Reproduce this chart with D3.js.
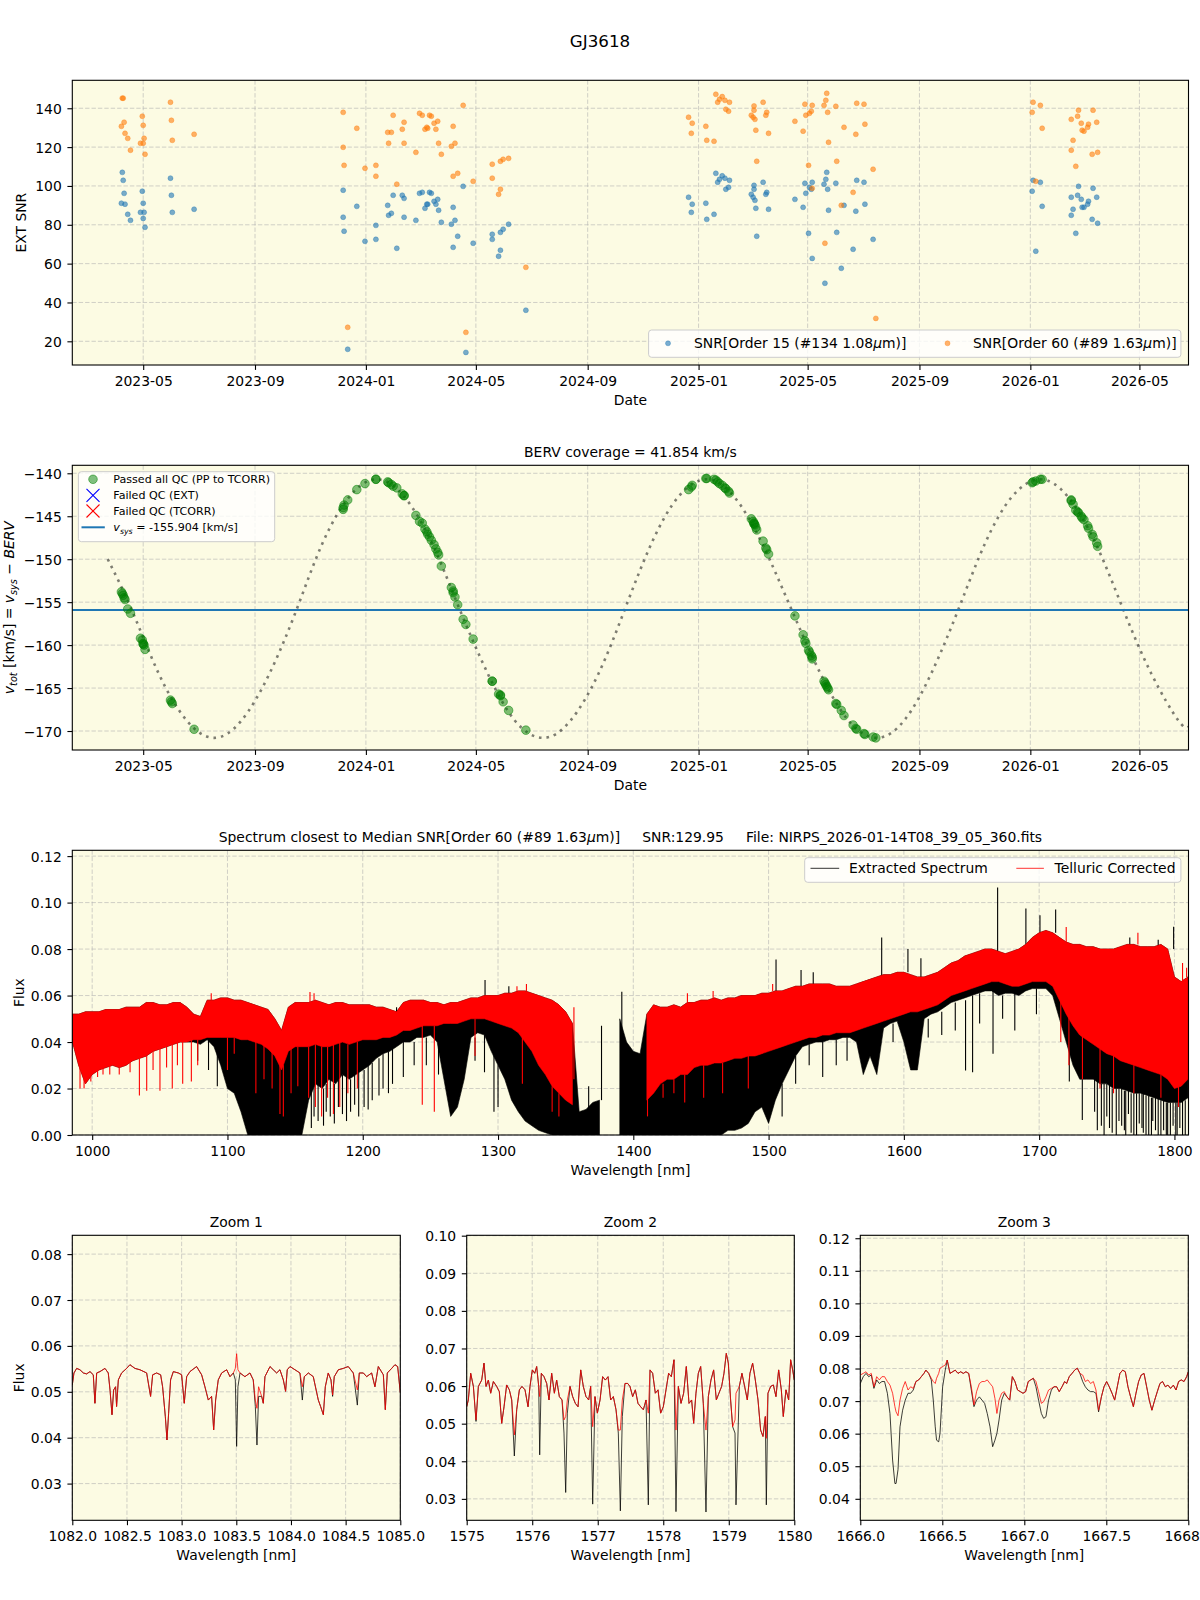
<!DOCTYPE html>
<html><head><meta charset="utf-8">
<script src="https://cdn.jsdelivr.net/npm/d3@7"></script>
<style>
html,body{margin:0;padding:0;background:#fff;}
svg text{font-family:"DejaVu Sans",sans-serif;}
</style></head><body>
<svg id="chart" width="1200" height="1600" xmlns="http://www.w3.org/2000/svg"></svg>
<script>
// ================= DATA =================
const obsDates = [
"2023-04-07","2023-04-08","2023-04-09","2023-04-10","2023-04-11","2023-04-14","2023-04-17","2023-04-28","2023-04-30","2023-05-01",
"2023-05-01","2023-05-02","2023-05-03","2023-05-31","2023-06-01","2023-06-02","2023-06-26",
"2023-12-07","2023-12-07","2023-12-08","2023-12-12","2023-12-22","2023-12-31","2024-01-12","2024-01-12","2024-01-25","2024-01-26",
"2024-01-29","2024-01-31","2024-02-04","2024-02-10","2024-02-12","2024-02-12","2024-02-25","2024-02-29","2024-03-03","2024-03-06",
"2024-03-08","2024-03-09","2024-03-11","2024-03-13","2024-03-16","2024-03-18","2024-03-20","2024-03-21","2024-03-24","2024-04-04",
"2024-04-06","2024-04-06","2024-04-08","2024-04-11","2024-04-17","2024-04-20","2024-04-28","2024-05-19","2024-05-19","2024-05-26",
"2024-05-28","2024-05-28","2024-05-31","2024-06-06","2024-06-25",
"2024-12-21","2024-12-24","2024-12-25","2025-01-09","2025-01-10","2025-01-18","2025-01-20","2025-01-22","2025-01-24","2025-01-27",
"2025-01-30","2025-01-31","2025-02-03","2025-02-04","2025-02-28","2025-03-02","2025-03-03","2025-03-03","2025-03-04","2025-03-05",
"2025-03-06","2025-03-13","2025-03-16","2025-03-17","2025-03-19","2025-04-17","2025-04-26","2025-04-28","2025-04-29","2025-05-02",
"2025-05-03","2025-05-05","2025-05-06","2025-05-06","2025-05-19","2025-05-20","2025-05-21","2025-05-22","2025-05-23","2025-05-24",
"2025-06-01","2025-06-02","2025-06-07","2025-06-10","2025-06-20","2025-06-23","2025-06-24","2025-07-02","2025-07-03","2025-07-12",
"2025-07-15",
"2026-01-03","2026-01-04","2026-01-07","2026-01-12","2026-01-14","2026-02-15","2026-02-15","2026-02-17","2026-02-20","2026-02-22",
"2026-02-23","2026-02-26","2026-02-27","2026-03-01","2026-03-05","2026-03-06","2026-03-10","2026-03-11","2026-03-15","2026-03-16"];
const snrOrder15 = [
91.1,107.0,102.9,96.2,90.6,85.4,82.3,86.4,97.3,91.1,
83.3,86.4,78.7,104.0,95.2,86.4,88.0,
83.9,97.8,76.7,15.9,89.5,71.5,79.7,72.5,90.0,84.9,
85.9,95.2,67.9,95.2,93.6,83.9,82.3,96.2,96.7,88.5,
90.6,90.6,96.7,96.2,92.1,90.6,93.1,87.5,81.3,80.3,
68.4,89.0,82.3,74.1,99.8,14.3,70.5,75.1,72.5,63.8,
76.1,66.9,77.7,80.3,36.0,
94.2,86.4,90.6,91.1,82.8,85.4,106.5,101.9,103.4,105.2,
104.0,98.3,99.3,102.9,95.7,94.2,98.3,100.3,92.6,88.5,
74.1,101.9,95.7,96.7,88.0,93.1,89.0,101.4,96.2,75.6,
99.3,98.3,101.9,62.7,100.9,49.9,103.4,107.0,98.3,87.5,
101.4,76.1,57.6,90.0,67.4,87.0,102.9,101.9,90.6,72.5,
null,
97.3,102.9,66.4,101.9,89.5,84.9,94.2,88.0,75.6,95.2,
99.8,93.1,89.0,89.0,90.6,92.1,82.8,98.8,94.2,80.8];
const snrOrder60 = [
130.7,145.2,145.2,132.8,127.1,124.5,118.4,122.0,135.9,122.0,
131.2,124.5,116.3,143.1,133.8,123.5,126.6,
119.9,137.9,110.6,27.2,129.7,109.1,110.6,105.0,127.6,122.0,
127.6,136.4,100.9,129.2,132.8,122.0,117.3,137.4,136.4,129.2,
130.2,129.7,136.4,135.9,132.3,129.2,133.3,122.0,116.3,120.4,
105.0,130.7,122.0,106.5,141.5,24.6,102.4,111.2,104.0,95.7,
112.7,98.3,113.7,114.2,58.1,
135.4,127.1,132.3,130.7,123.5,123.0,147.2,143.1,144.6,146.0,
144.1,139.5,138.5,143.1,136.4,135.4,139.0,141.2,134.3,128.7,
112.7,143.1,136.4,137.9,127.1,133.3,128.2,142.1,136.4,110.6,
137.4,138.5,141.5,98.8,141.5,70.5,144.1,147.7,137.9,122.5,
141.0,112.7,90.0,130.2,96.7,126.6,142.6,142.1,131.8,108.6,
31.8,
137.9,143.1,102.4,141.5,129.7,118.4,134.3,123.5,110.1,135.9,
139.0,132.3,128.7,128.2,130.2,131.8,116.3,139.0,132.8,117.3];
const bervAtObs = [
-153.8,-154.0,-154.2,-154.5,-154.7,-155.8,-156.3,-159.2,-159.4,-159.8,
-159.9,-160.0,-160.5,-166.4,-166.6,-166.8,-169.8,
-144.2,-144.0,-143.7,-143.1,-141.9,-141.2,-140.7,-140.7,-141.0,-141.1,
-141.3,-141.5,-141.7,-142.4,-142.6,-142.6,-144.9,-145.6,-145.8,-146.5,
-146.8,-147.1,-147.4,-147.8,-148.3,-148.8,-149.2,-149.5,-150.8,-153.3,
-153.7,-153.9,-154.4,-155.3,-157.0,-157.6,-159.3,-164.2,-164.2,-165.7,
-165.8,-165.9,-166.6,-167.6,-169.9,
-141.9,-141.6,-141.4,-140.6,-140.6,-140.7,-140.8,-141.0,-141.2,-141.4,
-141.7,-141.8,-142.1,-142.3,-145.3,-145.6,-145.8,-145.9,-146.0,-146.3,
-146.6,-147.9,-148.7,-148.9,-149.4,-156.6,-158.8,-159.5,-159.8,-160.6,
-160.8,-161.2,-161.4,-161.6,-164.2,-164.4,-164.6,-164.8,-165.0,-165.2,
-166.8,-166.9,-167.6,-168.2,-169.3,-169.7,-169.8,-170.3,-170.4,-170.7,
-170.8,
-141.1,-141.0,-140.9,-140.7,-140.7,-143.1,-143.2,-143.6,-144.3,-144.5,
-144.6,-145.0,-145.2,-145.4,-146.1,-146.4,-147.1,-147.4,-148.1,-148.5];
const bervCurveDates = ["2023-03-23","2023-04-18","2023-05-18","2023-06-18","2023-07-18","2023-08-17","2023-09-17","2023-10-17","2023-11-14","2023-12-14",
"2024-01-13","2024-02-12","2024-03-14","2024-04-13","2024-05-14","2024-06-13","2024-07-14","2024-08-13","2024-09-13","2024-10-12",
"2024-11-10","2024-12-10","2025-01-10","2025-02-09","2025-03-12","2025-04-13","2025-05-15","2025-06-15","2025-07-16","2025-08-15",
"2025-09-14","2025-10-14","2025-11-12","2025-12-12","2026-01-12","2026-02-11","2026-03-14","2026-04-13","2026-05-14","2026-06-13","2026-06-24"];
const bervCurveVals = [-150.0,-155.8,-163.3,-168.8,-170.8,-168.8,-163.3,-155.8,-148.2,-142.7,
-140.7,-142.7,-148.2,-155.8,-163.3,-168.8,-170.8,-168.8,-163.3,-155.8,
-148.2,-142.7,-140.7,-142.7,-148.2,-155.8,-163.3,-168.8,-170.8,-168.8,
-163.3,-155.8,-148.2,-142.7,-140.7,-142.7,-148.2,-155.8,-163.3,-168.8,-169.5];
const vSys = -155.904;
const bervCoverage = "41.854";

// full spectrum: envelope every 5 nm
const specWave = [985,990,995,1000,1005,1010,1015,1020,1025,1030,
1035,1040,1045,1050,1055,1060,1065,1070,1075,1080,
1085,1090,1095,1100,1105,1110,1115,1120,1125,1130,
1135,1140,1145,1150,1155,1160,1165,1170,1175,1180,
1185,1190,1195,1200,1205,1210,1215,1220,1225,1230,
1235,1240,1245,1250,1255,1260,1265,1270,1275,1280,
1285,1290,1295,1300,1305,1310,1315,1320,1325,1330,
1335,1340,1345,1350,1355,1360,1365,1370,1375,1380,
1385,1390,1395,1400,1405,1410,1415,1420,1425,1430,
1435,1440,1445,1450,1455,1460,1465,1470,1475,1480,
1485,1490,1495,1500,1505,1510,1515,1520,1525,1530,
1535,1540,1545,1550,1555,1560,1565,1570,1575,1580,
1585,1590,1595,1600,1605,1610,1615,1620,1625,1630,
1635,1640,1645,1650,1655,1660,1665,1670,1675,1680,
1685,1690,1695,1700,1705,1710,1715,1720,1725,1730,
1735,1740,1745,1750,1755,1760,1765,1770,1775,1780,
1785,1790,1795,1800,1805,1810];
const tellHi = [0.052,0.052,0.053,0.053,0.053,0.054,0.054,0.054,0.055,0.055,
0.055,0.057,0.057,0.056,0.056,0.057,0.057,0.055,0.052,0.051,
0.058,0.058,0.059,0.059,0.058,0.058,0.057,0.056,0.055,0.054,
0.050,0.045,0.055,0.057,0.057,0.057,0.058,0.057,0.056,0.057,
0.057,0.056,0.056,0.056,0.056,0.055,0.055,0.054,0.053,0.057,
0.058,0.058,0.058,0.057,0.057,0.056,0.057,0.057,0.058,0.059,
0.059,0.060,0.060,0.060,0.061,0.061,0.062,0.062,0.061,0.060,
0.059,0.058,0.056,0.053,0.048,null,null,null,null,null,
null,null,null,null,null,0.052,0.056,0.055,0.055,0.056,
0.055,0.057,0.057,0.058,0.058,0.059,0.058,0.059,0.059,0.060,
0.060,0.060,0.061,0.061,0.062,0.062,0.063,0.064,0.064,0.065,
0.065,0.065,0.065,0.064,0.064,0.064,0.065,0.066,0.067,0.068,
0.069,0.069,0.070,0.070,0.069,0.068,0.068,0.069,0.070,0.072,
0.074,0.075,0.077,0.078,0.079,0.080,0.080,0.079,0.078,0.079,
0.080,0.082,0.085,0.087,0.088,0.087,0.085,0.083,0.082,0.082,
0.081,0.081,0.080,0.080,0.080,0.081,0.082,0.082,0.081,0.081,
0.081,0.082,0.080,0.068,0.066,0.068];
const tellLo = [0.041,0.030,0.022,0.026,0.028,0.029,0.030,0.029,0.030,0.032,
0.033,0.034,0.036,0.037,0.038,0.039,0.040,0.040,0.041,0.041,
0.042,0.042,0.042,0.042,0.042,0.041,0.041,0.040,0.039,0.037,
0.034,0.028,0.036,0.038,0.038,0.038,0.039,0.038,0.038,0.039,
0.040,0.039,0.040,0.041,0.041,0.041,0.042,0.042,0.043,0.045,
0.045,0.046,0.047,0.047,0.047,0.048,0.048,0.048,0.049,0.050,
0.050,0.050,0.049,0.048,0.047,0.046,0.044,0.040,0.036,0.030,
0.026,0.021,0.018,0.015,0.013,null,null,null,null,null,
null,null,null,null,null,0.015,0.018,0.022,0.024,0.024,
0.026,0.026,0.029,0.030,0.030,0.031,0.031,0.032,0.033,0.033,
0.034,0.034,0.035,0.036,0.037,0.038,0.039,0.040,0.041,0.042,
0.042,0.043,0.043,0.044,0.044,0.044,0.045,0.046,0.047,0.048,
0.049,0.050,0.051,0.052,0.053,0.053,0.054,0.055,0.056,0.058,
0.060,0.061,0.062,0.063,0.064,0.065,0.066,0.066,0.065,0.064,
0.064,0.065,0.066,0.066,0.066,0.064,0.058,0.052,0.047,0.043,
0.041,0.039,0.037,0.035,0.034,0.032,0.031,0.030,0.029,0.028,
0.027,0.026,0.024,0.020,0.021,0.024];
const extHi = [0.052,0.052,0.053,0.053,0.053,0.054,0.054,0.054,0.055,0.055,
0.055,0.057,0.057,0.056,0.056,0.057,0.057,0.055,0.052,0.051,
0.058,0.058,0.059,0.059,0.058,0.058,0.057,0.056,0.055,0.054,
0.050,0.045,0.055,0.057,0.057,0.057,0.058,0.057,0.056,0.057,
0.057,0.056,0.056,0.056,0.056,0.055,0.055,0.054,0.053,0.057,
0.058,0.058,0.058,0.057,0.057,0.056,0.057,0.057,0.058,0.059,
0.059,0.060,0.060,0.060,0.061,0.061,0.062,0.062,0.061,0.060,
0.059,0.058,0.056,0.053,0.048,0.010,0.011,0.014,0.015,null,
null,0.050,0.040,0.036,0.035,0.052,0.056,0.055,0.055,0.056,
0.055,0.057,0.057,0.058,0.058,0.059,0.058,0.059,0.059,0.060,
0.060,0.060,0.061,0.061,0.062,0.062,0.063,0.064,0.064,0.065,
0.065,0.065,0.065,0.064,0.064,0.064,0.065,0.066,0.067,0.068,
0.069,0.069,0.070,0.070,0.069,0.068,0.068,0.069,0.070,0.072,
0.074,0.075,0.077,0.078,0.079,0.080,0.080,0.079,0.078,0.079,
0.080,0.082,0.085,0.087,0.088,0.087,0.085,0.083,0.082,0.082,
0.081,0.081,0.080,0.080,0.080,0.081,0.082,0.082,0.081,0.081,
0.081,0.082,0.080,0.068,0.066,0.068];
const extLo = [0.041,0.030,0.022,0.026,0.028,0.029,0.030,0.029,0.030,0.032,
0.033,0.034,0.036,0.037,0.038,0.039,0.040,0.040,0.040,0.039,
0.041,0.038,0.030,0.020,0.018,0.010,0.0,0.0,0.0,0.0,
0.0,0.0,0.0,0.0,0.0,0.015,0.022,0.020,0.024,0.022,
0.026,0.024,0.026,0.028,0.030,0.033,0.035,0.036,0.038,0.040,
0.040,0.042,0.042,0.043,0.040,0.024,0.008,0.012,0.024,0.042,
0.044,0.043,0.036,0.030,0.024,0.015,0.010,0.006,0.004,0.002,
0.001,0.0,0.0,0.0,0.0,0.0,0.0,0.0,0.0,null,
null,0.0,0.0,0.0,0.0,0.0,0.0,0.0,0.0,0.0,
0.0,0.0,0.0,0.0,0.0,0.0,0.0,0.002,0.002,0.003,
0.005,0.010,0.012,0.005,0.015,0.022,0.028,0.034,0.038,0.039,
0.040,0.040,0.041,0.041,0.042,0.042,0.040,0.026,0.034,0.026,
0.046,0.048,0.049,0.040,0.028,0.028,0.050,0.052,0.053,0.055,
0.057,0.058,0.059,0.060,0.061,0.062,0.062,0.060,0.061,0.061,
0.060,0.062,0.063,0.063,0.063,0.060,0.050,0.040,0.030,0.024,
0.024,0.024,0.022,0.022,0.020,0.020,0.019,0.018,0.018,0.017,
0.016,0.015,0.014,0.014,0.014,0.016];
// narrow lines [wavelength, from flux, to flux]
const tellSpikes = [[991,0.030,0.020],[994,0.024,0.020],[999,0.027,0.023],[1004,0.028,0.025],[1008,0.029,0.026],[1013,0.030,0.026],
[1020,0.029,0.026],[1028,0.031,0.027],[1034.9,0.033,0.017],[1040.3,0.034,0.019],[1045,0.036,0.028],[1050.1,0.037,0.019],
[1055,0.038,0.029],[1059.2,0.039,0.020],[1063,0.040,0.030],[1066.9,0.040,0.022],[1073.3,0.041,0.023],[1078,0.041,0.030],
[1100,0.042,0.028],[1105,0.042,0.035],[1121,0.040,0.018],[1127,0.039,0.024],[1133,0.036,0.020],[1138.8,0.030,0.009],
[1141.3,0.030,0.008],[1147,0.037,0.018],[1152,0.038,0.021],[1160,0.038,0.016],[1165,0.039,0.012],[1169.6,0.038,0.008],
[1174,0.038,0.016],[1178.3,0.039,0.009],[1183,0.040,0.012],[1189,0.039,0.018],[1196,0.040,0.020],[1244,0.047,0.013],
[1252.9,0.047,0.010],[1283,0.050,0.034],[1318,0.042,0.022],[1340,0.021,0.010],[1345,0.018,0.008],[1356.1,0.055,0.024],
[1410.5,0.016,0.008],[1422,0.022,0.016],[1430,0.024,0.018],[1438,0.026,0.014],[1452,0.030,0.016],[1466,0.031,0.018],
[1485,0.034,0.020],[1716,0.058,0.040],[1722,0.052,0.030],[1732,0.043,0.024],[1745,0.037,0.020],[1755,0.034,0.018],
[1770,0.030,0.018],[1790,0.026,0.016],[1803,0.021,0.012],
[1088,0.058,0.061],[1161,0.057,0.0615],[1164,0.058,0.061],[1314,0.062,0.064],[1321,0.062,0.065],[1440,0.057,0.061],
[1459,0.059,0.062],[1503,0.062,0.065],[1720,0.083,0.0895],[1773,0.082,0.087],[1806,0.066,0.074],[1809,0.068,0.072]];
const extSpikes = [[1225,0.053,0.055],[1290.4,0.060,0.0667],[1308,0.061,0.064],[1356,0.012,0.021],[1367,0.011,0.021],
[1376.5,0.015,0.047],[1391.5,0.045,0.0616],[1505.5,0.062,0.0755],[1524,0.064,0.071],[1533,0.065,0.070],[1583.6,0.068,0.085],
[1603,0.070,0.080],[1612.6,0.068,0.076],[1669.3,0.079,0.1065],[1690.2,0.082,0.0975],[1700.6,0.087,0.0946],[1712.2,0.087,0.097],
[1767,0.082,0.085],[1788,0.081,0.084],[1799.4,0.080,0.0896],
[1078,0.040,0.032],[1086,0.041,0.028],[1092.5,0.038,0.021],
[1162,0.020,0.003],[1164,0.022,0.008],[1167,0.022,0.006],[1171,0.020,0.004],[1173,0.022,0.010],[1176,0.024,0.008],
[1179,0.022,0.005],[1182,0.024,0.012],[1185,0.026,0.009],[1188,0.025,0.006],[1191,0.024,0.010],[1194,0.026,0.013],
[1197,0.027,0.008],[1201,0.028,0.012],[1204,0.030,0.011],[1207,0.031,0.015],[1212,0.033,0.017],[1215,0.035,0.020],
[1219,0.036,0.018],[1222,0.037,0.022],[1230,0.040,0.025],[1238,0.040,0.030],[1247,0.042,0.030],[1256,0.040,0.026],
[1283,0.042,0.032],[1290,0.043,0.027],[1297,0.036,0.010],[1300,0.030,0.012],[1510,0.022,0.008],[1520,0.034,0.022],
[1530,0.039,0.030],[1540,0.040,0.025],[1550,0.041,0.030],[1558,0.042,0.032],[1592,0.048,0.040],[1618,0.050,0.042],
[1628,0.053,0.043],[1638,0.057,0.045],[1645.6,0.058,0.0277],[1650.8,0.060,0.027],[1656,0.061,0.048],[1665.9,0.062,0.035],
[1673,0.060,0.050],[1682,0.061,0.045],[1698,0.063,0.052],[1722.3,0.040,0.023],[1731.9,0.024,0.0065],
[1741,0.024,0.010],[1743,0.024,0.002],[1746,0.022,0.004],[1748,0.022,0.0],[1750,0.022,0.008],[1752,0.022,0.003],
[1754,0.020,0.001],[1757,0.020,0.0],[1759,0.020,0.006],[1761,0.020,0.004],[1763,0.019,0.002],[1764,0.019,0.0],
[1766,0.019,0.009],[1768,0.018,0.001],[1770,0.018,0.0],[1772,0.018,0.0],[1774,0.018,0.005],[1776,0.018,0.003],
[1777,0.018,0.001],[1779,0.017,0.0],[1781,0.017,0.0],[1783,0.016,0.0],[1784,0.016,0.006],[1786,0.016,0.002],
[1788,0.016,0.0],[1790,0.015,0.0],[1792,0.015,0.002],[1794,0.014,0.0],[1795,0.014,0.0],[1797,0.014,0.0],
[1799,0.014,0.004],[1801,0.014,0.0],[1802,0.014,0.0],[1804,0.014,0.003],[1806,0.015,0.0],[1808,0.015,0.0]];

// zoom 1
const zoom1Wave = [1082.000,1082.015,1082.040,1082.070,1082.101,1082.131,1082.162,1082.192,1082.207,1082.223,
1082.253,1082.299,1082.329,1082.345,1082.363,1082.378,1082.396,1082.405,1082.421,1082.451,
1082.497,1082.527,1082.573,1082.619,1082.680,1082.716,1082.735,1082.771,1082.808,1082.826,
1082.851,1082.866,1082.881,1082.899,1082.924,1082.970,1083.000,1083.024,1083.046,1083.076,
1083.137,1083.183,1083.213,1083.244,1083.274,1083.293,1083.311,1083.335,1083.366,1083.412,
1083.442,1083.473,1083.491,1083.503,1083.515,1083.534,1083.579,1083.625,1083.655,1083.674,
1083.689,1083.704,1083.732,1083.747,1083.762,1083.808,1083.838,1083.869,1083.899,1083.930,
1083.951,1083.966,1083.991,1084.037,1084.082,1084.104,1084.122,1084.159,1084.204,1084.250,
1084.271,1084.296,1084.314,1084.341,1084.366,1084.381,1084.396,1084.433,1084.479,1084.524,
1084.570,1084.607,1084.625,1084.662,1084.692,1084.738,1084.768,1084.799,1084.845,1084.863,
1084.881,1084.921,1084.951,1084.976,1085.000];
const zoom1Tell = [0.0515,0.0541,0.0551,0.0548,0.0541,0.0539,0.0544,0.0537,0.0475,0.0541,
0.0544,0.0551,0.0541,0.0504,0.0450,0.0504,0.0511,0.0468,0.0526,0.0541,
0.0551,0.0559,0.0551,0.0548,0.0541,0.0490,0.0537,0.0541,0.0537,0.0511,
0.0446,0.0395,0.0453,0.0526,0.0544,0.0541,0.0537,0.0475,0.0533,0.0544,
0.0555,0.0537,0.0511,0.0482,0.0490,0.0417,0.0482,0.0526,0.0541,0.0548,
0.0533,0.0541,0.0551,0.0583,0.0548,0.0541,0.0533,0.0541,0.0526,0.0482,
0.0464,0.0511,0.0490,0.0475,0.0533,0.0555,0.0548,0.0541,0.0548,0.0526,
0.0501,0.0548,0.0555,0.0548,0.0541,0.0511,0.0533,0.0541,0.0533,0.0482,
0.0468,0.0450,0.0511,0.0541,0.0526,0.0493,0.0533,0.0548,0.0551,0.0555,
0.0541,0.0504,0.0541,0.0541,0.0533,0.0541,0.0511,0.0555,0.0537,0.0461,
0.0541,0.0551,0.0559,0.0555,0.0498];
const zoom1Ext = [0.0515,0.0541,0.0551,0.0548,0.0541,0.0539,0.0544,0.0537,0.0475,0.0541,
0.0544,0.0551,0.0541,0.0504,0.0450,0.0504,0.0511,0.0468,0.0526,0.0541,
0.0551,0.0559,0.0551,0.0548,0.0541,0.0490,0.0537,0.0541,0.0537,0.0511,
0.0446,0.0395,0.0453,0.0526,0.0544,0.0541,0.0537,0.0475,0.0533,0.0544,
0.0555,0.0537,0.0511,0.0482,0.0490,0.0417,0.0482,0.0526,0.0541,0.0548,
0.0533,0.0541,0.0526,0.0381,0.0511,0.0541,0.0533,0.0541,0.0526,0.0468,
0.0384,0.0490,0.0490,0.0475,0.0533,0.0555,0.0548,0.0541,0.0548,0.0526,
0.0501,0.0548,0.0555,0.0548,0.0541,0.0482,0.0533,0.0541,0.0533,0.0482,
0.0468,0.0450,0.0511,0.0541,0.0526,0.0490,0.0533,0.0548,0.0551,0.0555,
0.0541,0.0471,0.0541,0.0541,0.0533,0.0541,0.0511,0.0555,0.0537,0.0461,
0.0541,0.0551,0.0559,0.0555,0.0498];
// zoom 2
const zoom2Wave = [1575.000,1575.025,1575.061,1575.102,1575.142,1575.178,1575.229,1575.264,1575.295,1575.331,
1575.366,1575.407,1575.458,1575.498,1575.534,1575.570,1575.610,1575.651,1575.687,1575.727,
1575.763,1575.804,1575.844,1575.890,1575.936,1575.966,1576.002,1576.038,1576.068,1576.099,
1576.114,1576.139,1576.180,1576.221,1576.256,1576.297,1576.338,1576.373,1576.414,1576.455,
1576.485,1576.511,1576.536,1576.577,1576.617,1576.658,1576.699,1576.740,1576.780,1576.821,
1576.862,1576.892,1576.923,1576.958,1576.994,1577.035,1577.075,1577.116,1577.157,1577.197,
1577.238,1577.279,1577.314,1577.345,1577.375,1577.416,1577.457,1577.492,1577.533,1577.574,
1577.614,1577.655,1577.696,1577.737,1577.772,1577.798,1577.838,1577.879,1577.920,1577.960,
1578.001,1578.042,1578.082,1578.123,1578.164,1578.194,1578.230,1578.271,1578.311,1578.352,
1578.393,1578.433,1578.464,1578.499,1578.535,1578.571,1578.611,1578.652,1578.688,1578.728,
1578.769,1578.810,1578.850,1578.891,1578.927,1578.962,1578.993,1579.028,1579.059,1579.095,
1579.110,1579.161,1579.201,1579.242,1579.283,1579.323,1579.364,1579.405,1579.446,1579.486,
1579.522,1579.558,1579.573,1579.598,1579.639,1579.680,1579.720,1579.761,1579.802,1579.832,
1579.873,1579.914,1579.944,1579.975,1580.000];
const zoom2Tell = [0.0545,0.0563,0.0634,0.0599,0.0510,0.0599,0.0616,0.0661,0.0599,0.0616,
0.0581,0.0612,0.0599,0.0585,0.0501,0.0545,0.0603,0.0590,0.0563,0.0470,
0.0537,0.0590,0.0599,0.0590,0.0545,0.0599,0.0643,0.0634,0.0652,0.0599,
0.0572,0.0634,0.0625,0.0607,0.0563,0.0634,0.0581,0.0616,0.0572,0.0563,
0.0510,0.0519,0.0563,0.0599,0.0572,0.0554,0.0545,0.0643,0.0599,0.0572,
0.0563,0.0599,0.0492,0.0572,0.0528,0.0563,0.0625,0.0616,0.0625,0.0563,
0.0572,0.0537,0.0483,0.0483,0.0563,0.0607,0.0607,0.0599,0.0572,0.0590,
0.0554,0.0545,0.0537,0.0563,0.0528,0.0643,0.0634,0.0581,0.0590,0.0528,
0.0545,0.0590,0.0634,0.0625,0.0670,0.0483,0.0599,0.0554,0.0581,0.0652,
0.0554,0.0563,0.0501,0.0581,0.0634,0.0652,0.0554,0.0483,0.0572,0.0616,
0.0643,0.0563,0.0581,0.0599,0.0634,0.0687,0.0661,0.0563,0.0492,0.0510,
0.0581,0.0599,0.0634,0.0599,0.0563,0.0634,0.0661,0.0616,0.0563,0.0483,
0.0466,0.0519,0.0461,0.0581,0.0599,0.0603,0.0572,0.0643,0.0590,0.0519,
0.0590,0.0563,0.0670,0.0643,0.0616];
const zoom2Ext = [0.0545,0.0563,0.0634,0.0599,0.0506,0.0599,0.0616,0.0661,0.0599,0.0616,
0.0581,0.0612,0.0599,0.0585,0.0501,0.0545,0.0603,0.0590,0.0563,0.0414,
0.0537,0.0590,0.0599,0.0590,0.0545,0.0599,0.0643,0.0634,0.0652,0.0599,
0.0417,0.0634,0.0625,0.0607,0.0563,0.0634,0.0581,0.0616,0.0572,0.0563,
0.0475,0.0317,0.0528,0.0599,0.0572,0.0554,0.0545,0.0643,0.0599,0.0572,
0.0563,0.0599,0.0286,0.0572,0.0528,0.0563,0.0625,0.0616,0.0625,0.0563,
0.0572,0.0537,0.0475,0.0268,0.0519,0.0607,0.0607,0.0599,0.0572,0.0590,
0.0554,0.0545,0.0537,0.0563,0.0284,0.0643,0.0634,0.0581,0.0590,0.0528,
0.0545,0.0590,0.0634,0.0625,0.0670,0.0266,0.0599,0.0554,0.0581,0.0652,
0.0554,0.0563,0.0501,0.0581,0.0634,0.0652,0.0554,0.0265,0.0572,0.0616,
0.0643,0.0563,0.0581,0.0599,0.0634,0.0687,0.0661,0.0563,0.0492,0.0475,
0.0284,0.0599,0.0634,0.0599,0.0563,0.0634,0.0661,0.0616,0.0563,0.0483,
0.0466,0.0519,0.0284,0.0581,0.0599,0.0603,0.0572,0.0643,0.0590,0.0519,
0.0590,0.0563,0.0670,0.0643,0.0616];
// zoom 3
const zoom3Wave = [1666.000,1666.018,1666.035,1666.051,1666.067,1666.083,1666.100,1666.116,1666.132,1666.148,
1666.165,1666.181,1666.197,1666.211,1666.218,1666.230,1666.242,1666.258,1666.274,1666.291,
1666.307,1666.323,1666.339,1666.356,1666.372,1666.388,1666.400,1666.417,1666.433,1666.445,
1666.457,1666.465,1666.478,1666.486,1666.502,1666.518,1666.530,1666.547,1666.563,1666.579,
1666.596,1666.612,1666.628,1666.644,1666.661,1666.677,1666.693,1666.709,1666.726,1666.742,
1666.758,1666.774,1666.791,1666.807,1666.821,1666.833,1666.846,1666.862,1666.878,1666.894,
1666.911,1666.927,1666.943,1666.959,1666.976,1666.992,1667.008,1667.024,1667.039,1667.055,
1667.071,1667.087,1667.104,1667.118,1667.132,1667.148,1667.165,1667.181,1667.197,1667.213,
1667.230,1667.246,1667.258,1667.274,1667.291,1667.307,1667.323,1667.339,1667.356,1667.372,
1667.388,1667.404,1667.421,1667.437,1667.453,1667.470,1667.486,1667.502,1667.518,1667.535,
1667.551,1667.567,1667.583,1667.600,1667.616,1667.632,1667.648,1667.665,1667.681,1667.697,
1667.713,1667.730,1667.746,1667.762,1667.778,1667.795,1667.811,1667.827,1667.843,1667.860,
1667.876,1667.892,1667.909,1667.925,1667.941,1667.957,1667.974,1667.990,1668.000];
const zoom3Tell = [0.0780,0.0785,0.0790,0.0780,0.0785,0.0744,0.0775,0.0765,0.0775,0.0775,
0.0760,0.0749,0.0724,0.0683,0.0667,0.0655,0.0703,0.0739,0.0760,0.0734,
0.0744,0.0739,0.0760,0.0765,0.0775,0.0785,0.0795,0.0785,0.0770,0.0760,
0.0754,0.0770,0.0785,0.0801,0.0806,0.0811,0.0826,0.0785,0.0790,0.0795,
0.0785,0.0790,0.0785,0.0790,0.0785,0.0744,0.0688,0.0729,0.0754,0.0760,
0.0760,0.0765,0.0754,0.0744,0.0708,0.0662,0.0703,0.0724,0.0729,0.0713,
0.0703,0.0775,0.0760,0.0734,0.0729,0.0724,0.0729,0.0760,0.0765,0.0770,
0.0760,0.0729,0.0693,0.0698,0.0713,0.0734,0.0739,0.0744,0.0744,0.0729,
0.0744,0.0760,0.0754,0.0775,0.0785,0.0795,0.0801,0.0785,0.0780,0.0760,
0.0765,0.0754,0.0760,0.0734,0.0672,0.0713,0.0744,0.0760,0.0744,0.0724,
0.0703,0.0744,0.0785,0.0795,0.0790,0.0744,0.0713,0.0683,0.0724,0.0760,
0.0780,0.0785,0.0744,0.0703,0.0672,0.0703,0.0729,0.0754,0.0760,0.0744,
0.0749,0.0739,0.0749,0.0734,0.0760,0.0765,0.0760,0.0775,0.0790];
const zoom3Ext = [0.0754,0.0775,0.0785,0.0775,0.0780,0.0739,0.0765,0.0754,0.0760,0.0760,
0.0724,0.0662,0.0519,0.0447,0.0447,0.0490,0.0621,0.0672,0.0703,0.0724,
0.0724,0.0734,0.0760,0.0765,0.0775,0.0785,0.0795,0.0785,0.0765,0.0703,
0.0621,0.0580,0.0575,0.0601,0.0744,0.0795,0.0826,0.0785,0.0790,0.0795,
0.0785,0.0790,0.0785,0.0790,0.0785,0.0734,0.0683,0.0703,0.0713,0.0703,
0.0693,0.0662,0.0621,0.0560,0.0580,0.0601,0.0642,0.0703,0.0724,0.0713,
0.0703,0.0775,0.0760,0.0734,0.0729,0.0724,0.0729,0.0760,0.0765,0.0770,
0.0744,0.0703,0.0662,0.0647,0.0652,0.0703,0.0734,0.0744,0.0744,0.0729,
0.0744,0.0760,0.0754,0.0775,0.0785,0.0795,0.0801,0.0785,0.0760,0.0744,
0.0734,0.0729,0.0729,0.0724,0.0667,0.0713,0.0744,0.0760,0.0744,0.0724,
0.0703,0.0744,0.0785,0.0795,0.0790,0.0744,0.0713,0.0683,0.0724,0.0760,
0.0780,0.0785,0.0744,0.0703,0.0672,0.0703,0.0729,0.0754,0.0760,0.0744,
0.0749,0.0739,0.0749,0.0734,0.0760,0.0765,0.0760,0.0775,0.0790];

// ticks
const dateTicks = ["2023-05-01","2023-09-01","2024-01-01","2024-05-01","2024-09-01","2025-01-01","2025-05-01","2025-09-01","2026-01-01","2026-05-01"];
const snrTicks = [20,40,60,80,100,120,140];
const bervTicks = [-170,-165,-160,-155,-150,-145,-140];
const specXTicks = [1000,1100,1200,1300,1400,1500,1600,1700,1800];
const specYTicks = [0,0.02,0.04,0.06,0.08,0.10,0.12];
const zoom1XTicks = [1082,1082.5,1083,1083.5,1084,1084.5,1085];
const zoom1YTicks = [0.03,0.04,0.05,0.06,0.07,0.08];
const zoom2XTicks = [1575,1576,1577,1578,1579,1580];
const zoom2YTicks = [0.03,0.04,0.05,0.06,0.07,0.08,0.09,0.10];
const zoom3XTicks = [1666,1666.5,1667,1667.5,1668];
const zoom3YTicks = [0.04,0.05,0.06,0.07,0.08,0.09,0.10,0.11,0.12];

// ================= DRAWING =================
const svg = d3.select("#chart");
const FONT = '"DejaVu Sans", sans-serif';
const BG = "#fcfbe3";
const FS = 13.9;
const parseD = d3.utcParse("%Y-%m-%d");
const C0 = "#1f77b4", C1 = "#ff7f0e";

const B1 = {x0:72.3, x1:1188.5, y0:80.3, y1:365};
const B2 = {x0:72.3, x1:1188.5, y0:465.3, y1:750};
const B3 = {x0:72.3, x1:1188.5, y0:850.3, y1:1135};
const BA = {x0:72.3, x1:400.3, y0:1235.3, y1:1520.3};
const BB = {x0:466.7, x1:794.3, y0:1235.3, y1:1520.3};
const BC = {x0:860.3, x1:1188.3, y0:1235.3, y1:1520.3};

function setup(box, x, y, xt, yt, id) {
  svg.append("rect").attr("x",box.x0).attr("y",box.y0).attr("width",box.x1-box.x0).attr("height",box.y1-box.y0).attr("fill",BG);
  const grid = svg.append("g").attr("stroke","#b0b0b0").attr("stroke-opacity",0.65).attr("stroke-width",0.9).attr("stroke-dasharray","4.4,2");
  grid.selectAll(null).data(xt).join("line").attr("x1",d=>x(d)).attr("x2",d=>x(d)).attr("y1",box.y0).attr("y2",box.y1);
  grid.selectAll(null).data(yt).join("line").attr("y1",d=>y(d)).attr("y2",d=>y(d)).attr("x1",box.x0).attr("x2",box.x1);
  svg.append("clipPath").attr("id",id).append("rect").attr("x",box.x0).attr("y",box.y0).attr("width",box.x1-box.x0).attr("height",box.y1-box.y0);
  return svg.append("g").attr("clip-path",`url(#${id})`);
}
function finish(box, x, y, xt, yt, xf, yf) {
  svg.append("rect").attr("x",box.x0).attr("y",box.y0).attr("width",box.x1-box.x0).attr("height",box.y1-box.y0)
    .attr("fill","none").attr("stroke","#000").attr("stroke-width",1.1);
  const ax = svg.append("g").attr("transform",`translate(0,${box.y1})`)
    .call(d3.axisBottom(x).tickValues(xt).tickFormat(xf).tickSize(4.9).tickPadding(6.2).tickSizeOuter(0));
  ax.select(".domain").remove();
  ax.attr("font-size",FS).attr("font-family",FONT);
  ax.selectAll("line").attr("stroke-width",1.1);
  ax.selectAll("text").attr("fill","#000");
  const ay = svg.append("g").attr("transform",`translate(${box.x0},0)`)
    .call(d3.axisLeft(y).tickValues(yt).tickFormat(yf).tickSize(4.9).tickPadding(5.6).tickSizeOuter(0));
  ay.select(".domain").remove();
  ay.attr("font-size",FS).attr("font-family",FONT);
  ay.selectAll("line").attr("stroke-width",1.1);
  ay.selectAll("text").attr("fill","#000").attr("dy","0.36em");
}
function label(txt, x, y, opts={}) {
  const t = svg.append("text").attr("x",x).attr("y",y).attr("font-size",opts.size||FS)
    .attr("text-anchor",opts.anchor||"middle").attr("fill","#000").text(txt);
  if (opts.rotate) t.attr("transform",`rotate(-90,${x},${y})`);
  return t;
}

// ---------- title ----------
label("GJ3618", 600, 46.5, {size:16.7});

// ---------- Panel 1: SNR ----------
const dTicks = dateTicks.map(parseD);
const dFmt = d3.utcFormat("%Y-%m");
const xDate = d3.scaleUtc().domain([parseD("2023-02-12"), parseD("2026-06-24")]).range([B1.x0, B1.x1]);
const ySNR = d3.scaleLinear().domain([7.8,154.4]).range([B1.y1, B1.y0]);
const p1 = setup(B1, xDate, ySNR, dTicks, snrTicks, "c1");
const obs = obsDates.map((d,i)=>({t:parseD(d), s15:snrOrder15[i], s60:snrOrder60[i], v:bervAtObs[i]}));
p1.selectAll(null).data(obs.filter(d=>d.s15!=null)).join("circle")
  .attr("cx",d=>xDate(d.t)).attr("cy",d=>ySNR(d.s15)).attr("r",2.5)
  .attr("fill",C0).attr("fill-opacity",0.6).attr("stroke",C0).attr("stroke-opacity",0.6).attr("stroke-width",0.6);
p1.selectAll(null).data(obs.filter(d=>d.s60!=null)).join("circle")
  .attr("cx",d=>xDate(d.t)).attr("cy",d=>ySNR(d.s60)).attr("r",2.5)
  .attr("fill",C1).attr("fill-opacity",0.6).attr("stroke",C1).attr("stroke-opacity",0.6).attr("stroke-width",0.6);
finish(B1, xDate, ySNR, dTicks, snrTicks, dFmt, d3.format("d"));
label("EXT SNR", 26.5, (B1.y0+B1.y1)/2, {rotate:true});
label("Date", (B1.x0+B1.x1)/2, B1.y1+40);
// legend 1
svg.append("rect").attr("x",648.6).attr("y",330).attr("width",532.3).attr("height",27.3).attr("rx",3)
  .attr("fill","#fff").attr("fill-opacity",0.8).attr("stroke","#cccccc").attr("stroke-width",1);
[[C0,668,694,"SNR[Order 15 (#134 1.08","m)]"],[C1,947.5,973,"SNR[Order 60 (#89 1.63","m)]"]].forEach(([c,mx,tx,a,b])=>{
  svg.append("circle").attr("cx",mx).attr("cy",343.3).attr("r",2.5).attr("fill",c).attr("fill-opacity",0.6)
    .attr("stroke",c).attr("stroke-opacity",0.6).attr("stroke-width",0.6);
  const t = svg.append("text").attr("x",tx).attr("y",348.4).attr("font-size",FS).attr("fill","#000");
  t.append("tspan").text(a); t.append("tspan").attr("font-style","italic").text("μ"); t.append("tspan").text(b);
});

// ---------- Panel 2: BERV ----------
const yB = d3.scaleLinear().domain([-172.21,-139.07]).range([B2.y1, B2.y0]);
const xDate2 = xDate.copy().range([B2.x0, B2.x1]);
const p2 = setup(B2, xDate2, yB, dTicks, bervTicks, "c2");
const curve = bervCurveDates.map((d,i)=>({t:parseD(d), v:bervCurveVals[i]}));
p2.append("path").datum(curve).attr("d", d3.line().x(d=>xDate2(d.t)).y(d=>yB(d.v)).curve(d3.curveNatural))
  .attr("fill","none").attr("stroke","#000").attr("stroke-opacity",0.5).attr("stroke-width",2.6).attr("stroke-dasharray","2.6,5");
p2.append("line").attr("x1",B2.x0).attr("x2",B2.x1).attr("y1",yB(vSys)).attr("y2",yB(vSys))
  .attr("stroke",C0).attr("stroke-width",2);
p2.selectAll(null).data(obs).join("circle")
  .attr("cx",d=>xDate2(d.t)).attr("cy",d=>yB(d.v)).attr("r",4.3)
  .attr("fill","#008000").attr("fill-opacity",0.5).attr("stroke","#008000").attr("stroke-opacity",0.5).attr("stroke-width",1);
finish(B2, xDate2, yB, dTicks, bervTicks, dFmt, d3.format("d"));
label("BERV coverage = " + bervCoverage + " km/s", (B2.x0+B2.x1)/2, 457.4);
label("Date", (B2.x0+B2.x1)/2, B2.y1+40);
{
  const t = svg.append("text").attr("transform",`translate(14,${(B2.y0+B2.y1)/2}) rotate(-90)`)
    .attr("text-anchor","middle").attr("font-size",FS).attr("fill","#000");
  t.append("tspan").attr("font-style","italic").text("v");
  t.append("tspan").attr("font-style","italic").attr("font-size",9.7).attr("dy",3).text("tot");
  t.append("tspan").attr("dy",-3).text(" [km/s] = ");
  t.append("tspan").attr("font-style","italic").text("v");
  t.append("tspan").attr("font-style","italic").attr("font-size",9.7).attr("dy",3).text("sys");
  t.append("tspan").attr("dy",-3).text(" − ");
  t.append("tspan").attr("font-style","italic").text("BERV");
}
// legend 2
svg.append("rect").attr("x",78.4).attr("y",471.7).attr("width",196.3).attr("height",70).attr("rx",3)
  .attr("fill","#fff").attr("fill-opacity",0.8).attr("stroke","#cccccc").attr("stroke-width",1);
svg.append("circle").attr("cx",93).attr("cy",479.3).attr("r",4.3).attr("fill","#008000").attr("fill-opacity",0.5)
  .attr("stroke","#008000").attr("stroke-opacity",0.5);
[["#0000ff",495.3],["#ff0000",511]].forEach(([c,yy])=>{
  svg.append("path").attr("d",`M${86.5},${yy-6.5}L${99.5},${yy+6.5}M${86.5},${yy+6.5}L${99.5},${yy-6.5}`)
    .attr("stroke",c).attr("stroke-width",1.1).attr("fill","none");
});
svg.append("line").attr("x1",81.5).attr("x2",104.8).attr("y1",527.3).attr("y2",527.3).attr("stroke",C0).attr("stroke-width",2);
const LFS = 11.1;
[["Passed all QC (PP to TCORR)",479.3],["Failed QC (EXT)",495.3],["Failed QC (TCORR)",511]].forEach(([s,yy])=>{
  svg.append("text").attr("x",113.3).attr("y",yy+4).attr("font-size",LFS).attr("fill","#000").text(s);
});
{
  const t = svg.append("text").attr("x",113.3).attr("y",527.3+4).attr("font-size",LFS).attr("fill","#000");
  t.append("tspan").attr("font-style","italic").text("v");
  t.append("tspan").attr("font-style","italic").attr("font-size",7.8).attr("dy",2.4).text("sys");
  t.append("tspan").attr("dy",-2.4).text(" = " + vSys.toFixed(3) + " [km/s]");
}

// ---------- Panel 3: full spectrum ----------
const xS = d3.scaleLinear().domain([985.3,1810.4]).range([B3.x0,B3.x1]);
const yS = d3.scaleLinear().domain([0,0.1225]).range([B3.y1,B3.y0]);
const p3 = setup(B3, xS, yS, specXTicks, specYTicks, "c3");
const ext = specWave.map((w,i)=>({w, hi:extHi[i], lo:extLo[i]}));
const tel = specWave.map((w,i)=>({w, hi:tellHi[i], lo:tellLo[i]}));
const areaS = d3.area().defined(d=>d.hi!=null && d.lo!=null).x(d=>xS(d.w)).y0(d=>yS(d.lo)).y1(d=>yS(d.hi));
p3.append("path").datum(ext).attr("d",areaS).attr("fill","#000").attr("stroke","#000").attr("stroke-width",0.6);
p3.selectAll(null).data(extSpikes).join("line").attr("x1",d=>xS(d[0])).attr("x2",d=>xS(d[0]))
  .attr("y1",d=>yS(d[1])).attr("y2",d=>yS(d[2])).attr("stroke","#000").attr("stroke-width",1.1);
p3.append("path").datum(tel).attr("d",areaS).attr("fill","#ff0000").attr("stroke","#ff0000").attr("stroke-width",0.6);
p3.selectAll(null).data(tellSpikes).join("line").attr("x1",d=>xS(d[0])).attr("x2",d=>xS(d[0]))
  .attr("y1",d=>yS(d[1])).attr("y2",d=>yS(d[2])).attr("stroke","#ff0000").attr("stroke-width",1.1);
finish(B3, xS, yS, specXTicks, specYTicks, d3.format("d"), d3.format(".2f"));
{
  const t = svg.append("text").attr("x",(B3.x0+B3.x1)/2).attr("y",842.4).attr("text-anchor","middle")
    .attr("font-size",FS).attr("fill","#000").style("white-space","pre");
  t.append("tspan").text("Spectrum closest to Median SNR[Order 60 (#89 1.63");
  t.append("tspan").attr("font-style","italic").text("μ");
  t.append("tspan").text("m)]     SNR:129.95     File: NIRPS_2026-01-14T08_39_05_360.fits");
}
label("Flux", 23.7, (B3.y0+B3.y1)/2, {rotate:true});
label("Wavelength [nm]", (B3.x0+B3.x1)/2, B3.y1+40);
// legend 3
svg.append("rect").attr("x",804.7).attr("y",857.7).attr("width",376.2).attr("height",24.6).attr("rx",3)
  .attr("fill","#fff").attr("fill-opacity",0.8).attr("stroke","#cccccc").attr("stroke-width",1);
svg.append("line").attr("x1",810.5).attr("x2",839.2).attr("y1",868.3).attr("y2",868.3).attr("stroke","#000").attr("stroke-opacity",0.8).attr("stroke-width",1);
svg.append("line").attr("x1",1016.3).attr("x2",1043.9).attr("y1",868.3).attr("y2",868.3).attr("stroke","#ff0000").attr("stroke-opacity",0.8).attr("stroke-width",1);
svg.append("text").attr("x",849).attr("y",873.3).attr("font-size",FS).attr("fill","#000").text("Extracted Spectrum");
svg.append("text").attr("x",1054.6).attr("y",873.3).attr("font-size",FS).attr("fill","#000").text("Telluric Corrected");

// ---------- Zoom panels ----------
function zoomPanel(box, xd, yd, xt, yt, xf, wave, extV, telV, id, title) {
  const x = d3.scaleLinear().domain(xd).range([box.x0, box.x1]);
  const y = d3.scaleLinear().domain(yd).range([box.y1, box.y0]);
  const g = setup(box, x, y, xt, yt, id);
  const ln = d3.line().x(d=>x(d[0])).y(d=>y(d[1]));
  g.append("path").datum(wave.map((w,i)=>[w,extV[i]])).attr("d",ln).attr("fill","none").attr("stroke","#000").attr("stroke-opacity",0.85).attr("stroke-width",0.9);
  g.append("path").datum(wave.map((w,i)=>[w,telV[i]])).attr("d",ln).attr("fill","none").attr("stroke","#ff0000").attr("stroke-opacity",0.85).attr("stroke-width",0.9);
  finish(box, x, y, xt, yt, xf, d3.format(".2f"));
  label(title, (box.x0+box.x1)/2, 1227.3);
  label("Wavelength [nm]", (box.x0+box.x1)/2, box.y1+39.5);
}
zoomPanel(BA, [1082,1085], [0.022,0.0841], zoom1XTicks, zoom1YTicks, d3.format(".1f"), zoom1Wave, zoom1Ext, zoom1Tell, "cz1", "Zoom 1");
zoomPanel(BB, [1575,1580], [0.0243,0.1001], zoom2XTicks, zoom2YTicks, d3.format("d"), zoom2Wave, zoom2Ext, zoom2Tell, "cz2", "Zoom 2");
zoomPanel(BC, [1666,1668], [0.0334,0.1209], zoom3XTicks, zoom3YTicks, d3.format(".1f"), zoom3Wave, zoom3Ext, zoom3Tell, "cz3", "Zoom 3");
label("Flux", 24, (BA.y0+BA.y1)/2, {rotate:true});
</script>
</body></html>
